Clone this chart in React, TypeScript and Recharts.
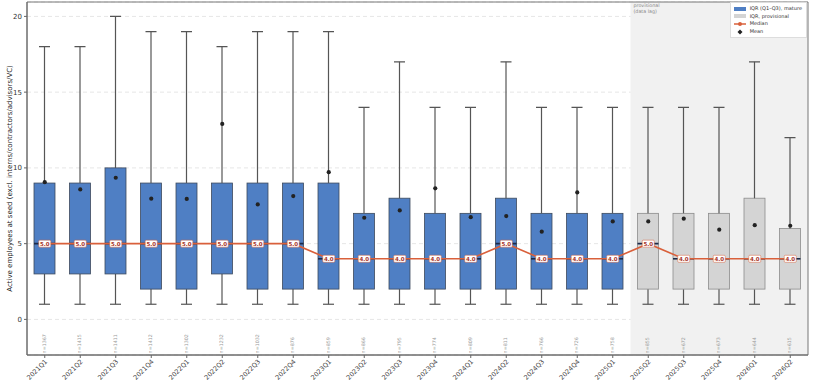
import React from 'react';
import { ComposedChart, Bar, Line, Scatter, XAxis, YAxis, CartesianGrid, ReferenceArea, LabelList, Legend } from 'recharts';

const quarters = ['2021Q1', '2021Q2', '2021Q3', '2021Q4', '2022Q1', '2022Q2', '2022Q3', '2022Q4', '2023Q1', '2023Q2', '2023Q3', '2023Q4', '2024Q1', '2024Q2', '2024Q3', '2024Q4', '2025Q1', '2025Q2', '2025Q3', '2025Q4', '2026Q1', '2026Q2'];
const whiskerLow = [1, 1, 1, 1, 1, 1, 1, 1, 1, 1, 1, 1, 1, 1, 1, 1, 1, 1, 1, 1, 1, 1];
const q1s = [3, 3, 3, 2, 2, 3, 2, 2, 2, 2, 2, 2, 2, 2, 2, 2, 2, 2, 2, 2, 2, 2];
const medians = [5, 5, 5, 5, 5, 5, 5, 5, 4, 4, 4, 4, 4, 5, 4, 4, 4, 5, 4, 4, 4, 4];
const q3s = [9, 9, 10, 9, 9, 9, 9, 9, 9, 7, 8, 7, 7, 8, 7, 7, 7, 7, 7, 7, 8, 6];
const whiskerHigh = [18, 18, 20, 19, 19, 18, 19, 19, 19, 14, 17, 14, 14, 17, 14, 14, 14, 14, 14, 14, 17, 12];
const means = [9.06, 8.58, 9.35, 7.97, 7.95, 12.9, 7.59, 8.14, 9.72, 6.71, 7.19, 8.65, 6.75, 6.82, 5.79, 8.38, 6.47, 6.47, 6.65, 5.92, 6.22, 6.18];
const counts = [1367, 1415, 1411, 1412, 1302, 1232, 1032, 876, 859, 866, 795, 774, 809, 811, 766, 726, 758, 855, 672, 673, 644, 615];
const provisionalFrom = '2025Q2';
const yTicks = [0, 5, 10, 15, 20];

const BLUE = '#4f7fc4';
const GREY_BOX = '#d4d4d4';
const MEDIAN_RED = '#d9603b';
const FONT = 'DejaVu Sans, sans-serif';

const provIndex = quarters.indexOf(provisionalFrom);

const data = quarters.map((q, i) => ({
    quarter: q,
    base: whiskerLow[i],
    lowerWhisker: q1s[i] - whiskerLow[i],
    box: q3s[i] - q1s[i],
    upperWhisker: whiskerHigh[i] - q3s[i],
    q1: q1s[i],
    q3: q3s[i],
    median: medians[i],
    mean: means[i],
    n: counts[i],
    prov: i >= provIndex,
}));

const norm = (p: any) => {
    const y = p.height < 0 ? p.y + p.height : p.y;
    return { x: p.x, y, w: p.width, h: Math.abs(p.height) };
};

const LowerWhisker = (p: any) => {
    const { x, y, w, h } = norm(p);
    const cx = x + w / 2;
    return (
        <g>
            <line x1={cx} x2={cx} y1={y} y2={y + h} stroke="#555" strokeWidth={1.2} />
            <line x1={cx - 5.5} x2={cx + 5.5} y1={y + h} y2={y + h} stroke="#555" strokeWidth={1.2} />
        </g>
    );
};

const UpperWhisker = (p: any) => {
    const { x, y, w, h } = norm(p);
    const cx = x + w / 2;
    return (
        <g>
            <line x1={cx} x2={cx} y1={y} y2={y + h} stroke="#555" strokeWidth={1.2} />
            <line x1={cx - 5.5} x2={cx + 5.5} y1={y} y2={y} stroke="#555" strokeWidth={1.2} />
        </g>
    );
};

const BoxShape = (p: any) => {
    const { x, y, w, h } = norm(p);
    const d = p.payload;
    const medY = y + (h * (d.q3 - d.median)) / (d.q3 - d.q1);
    return (
        <g>
            <rect x={x} y={y} width={w} height={h} fill={d.prov ? GREY_BOX : BLUE} stroke={d.prov ? '#8c8c8c' : '#3d4a5c'} strokeWidth={0.8} />
            <line x1={x} x2={x + w} y1={medY} y2={medY} stroke="#1c2a4a" strokeWidth={1.6} />
        </g>
    );
};

const renderCount = (props: any) => {
    const { x, y, width, height, value } = props;
    const cx = x + width / 2;
    const bottom = Math.max(y, y + height) + 34;
    return (
        <text x={cx} y={bottom} transform={`rotate(-90, ${cx}, ${bottom})`} textAnchor="start" dominantBaseline="central" fontSize={4.8} fill="#999" fontFamily={FONT}>
            {`n=${value}`}
        </text>
    );
};

const renderMedianLabel = (props: any) => {
    const { x, y, value } = props;
    return (
        <g>
            <rect x={x - 6} y={y - 3.5} width={12} height={7} fill="#fff" stroke={MEDIAN_RED} strokeWidth={0.5} rx={1} />
            <text x={x} y={y + 0.3} textAnchor="middle" dominantBaseline="central" fontSize={5.5} fontWeight="bold" fill="#a8352a" fontFamily={FONT}>
                {Number(value).toFixed(1)}
            </text>
        </g>
    );
};

const XTick = ({ x, y, payload }: any) => (
    <text x={x + 3} y={y + 2} transform={`rotate(-45, ${x + 3}, ${y + 2})`} textAnchor="end" fontSize={6.5} fill="#444" fontFamily={FONT}>
        {payload.value}
    </text>
);

const YLabel = ({ viewBox }: any) => {
    const cx = 10;
    const cy = viewBox.y + viewBox.height / 2;
    return (
        <text x={cx} y={cy} transform={`rotate(-90, ${cx}, ${cy})`} textAnchor="middle" dominantBaseline="central" fontSize={7} fill="#222" fontFamily={FONT}>
            Active employees at seed (excl. interns/contractors/advisors/VC)
        </text>
    );
};

const ProvLabel = ({ viewBox }: any) => (
    <text x={viewBox.x + 3} y={viewBox.y + 3} fontSize={4.8} fill="#888" fontFamily={FONT}>
        <tspan x={viewBox.x + 3} dy={2}>provisional</tspan>
        <tspan x={viewBox.x + 3} dy={6}>(data lag)</tspan>
    </text>
);

const LegendBox = () => {
    const row = { display: 'flex', alignItems: 'center', height: 7.6, whiteSpace: 'nowrap' } as const;
    const icon = { width: 12, marginRight: 4, display: 'flex', justifyContent: 'center', flexShrink: 0 } as const;
    return (
        <div style={{ background: '#fff', border: '1px solid #ddd', padding: '2px 4px 2px 3px', fontSize: 5, color: '#333', fontFamily: FONT, lineHeight: 1 }}>
            <div style={row}><span style={icon}><svg width={12} height={4}><rect width={12} height={4} fill={BLUE} /></svg></span>IQR (Q1–Q3), mature</div>
            <div style={row}><span style={icon}><svg width={12} height={4}><rect width={12} height={4} fill={GREY_BOX} /></svg></span>IQR, provisional</div>
            <div style={row}><span style={icon}><svg width={12} height={6}><line x1={0} x2={12} y1={3} y2={3} stroke={MEDIAN_RED} strokeWidth={1.5} /><circle cx={6} cy={3} r={2} fill={MEDIAN_RED} /></svg></span>Median</div>
            <div style={row}><span style={icon}><svg width={12} height={6}><path d="M6 0.5 L8.5 3 L6 5.5 L3.5 3 Z" fill="#222" /></svg></span>Mean</div>
        </div>
    );
};

const App: React.FC = () => (
    <div style={{ position: 'absolute', left: 0, top: 0, background: '#fff' }}>
        <ComposedChart width={816} height={383} data={data} margin={{ top: 2, right: 8, bottom: 0, left: 0 }} barSize={21}>
            <ReferenceArea x1={provisionalFrom} x2={quarters[quarters.length - 1]} fill="#f1f1f1" fillOpacity={1} stroke="none" label={ProvLabel} />
            <CartesianGrid vertical={false} strokeDasharray="4 3" stroke="#e6e6e6" />
            <XAxis dataKey="quarter" height={28} interval={0} tick={<XTick />} tickSize={3} tickLine={{ stroke: '#666' }} axisLine={{ stroke: '#666' }} />
            <YAxis type="number" domain={[-2.35, 20.95]} ticks={yTicks} allowDataOverflow width={27} tickSize={3} tick={{ fontSize: 7, fill: '#333', fontFamily: FONT }} tickLine={{ stroke: '#666' }} axisLine={{ stroke: '#666' }} label={YLabel} />
            <Legend layout="vertical" align="center" verticalAlign="middle" wrapperStyle={{ top: 2, right: 9, left: 'auto', width: 'auto' }} content={() => <LegendBox />} />
            <Bar dataKey="base" stackId="box" fill="none" shape={() => <g />} isAnimationActive={false}>
                <LabelList dataKey="n" content={renderCount} />
            </Bar>
            <Bar dataKey="lowerWhisker" stackId="box" shape={LowerWhisker} isAnimationActive={false} />
            <Bar dataKey="box" stackId="box" shape={BoxShape} isAnimationActive={false} />
            <Bar dataKey="upperWhisker" stackId="box" shape={UpperWhisker} isAnimationActive={false} />
            <Line dataKey="median" stroke={MEDIAN_RED} strokeWidth={1.6} dot={false} isAnimationActive={false}>
                <LabelList dataKey="median" content={renderMedianLabel} />
            </Line>
            <Scatter dataKey="mean" fill="#222" shape={(p: any) => <circle cx={p.cx} cy={p.cy} r={2.1} fill="#222" />} isAnimationActive={false} />
            <ReferenceArea x1={quarters[0]} x2={quarters[quarters.length - 1]} fill="none" stroke="#777" strokeWidth={1} />
        </ComposedChart>
    </div>
);

export default App;
